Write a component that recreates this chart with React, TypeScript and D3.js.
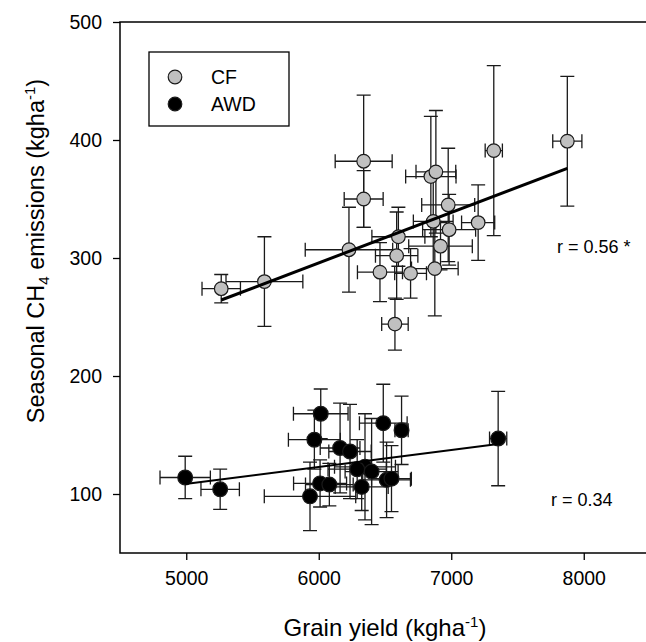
import React, { useEffect, useRef } from 'react';
import * as d3 from 'd3';

// [grain yield, yield SE, CH4, CH4 SE]
const cfPoints: [number, number, number, number][] = [
  [5264, 145, 274, 12],
  [5590, 290, 280, 38],
  [6228, 330, 307, 36],
  [6339, 215, 382, 56],
  [6339, 147, 350, 24],
  [6846, 190, 369, 51],
  [6884, 150, 373, 52],
  [6977, 200, 345, 48],
  [7203, 125, 330, 32],
  [6864, 150, 331, 40],
  [6601, 200, 318, 25],
  [6588, 160, 302, 37],
  [6462, 170, 288, 25],
  [6693, 120, 287, 21],
  [6876, 176, 291, 40],
  [6919, 240, 310, 20],
  [6575, 100, 244, 22],
  [6984, 200, 324, 30],
  [7321, 65, 391, 72],
  [7876, 110, 399, 55],
];

const awdPoints: [number, number, number, number][] = [
  [4992, 190, 114, 18],
  [5256, 145, 104, 17],
  [5934, 345, 98, 29],
  [6015, 206, 168, 21],
  [5967, 196, 146, 25],
  [6161, 150, 139, 38],
  [6236, 160, 136, 40],
  [6010, 200, 109, 20],
  [6080, 180, 108, 18],
  [6487, 180, 160, 33],
  [6625, 50, 154, 29],
  [7354, 65, 147, 40],
  [6349, 230, 123, 45],
  [6399, 200, 119, 45],
  [6512, 180, 112, 32],
  [6549, 150, 113, 28],
  [6324, 200, 106, 20],
  [6290, 220, 121, 25],
];

// regression line end points
const cfFit: [number, number][] = [[5264, 264.4], [7876, 376]];
const awdFit: [number, number][] = [[4992, 108.5], [7354, 142.4]];

const xTicks = [5000, 6000, 7000, 8000];
const yTicks = [100, 200, 300, 400, 500];

const WIDTH = 646;
const HEIGHT = 642;
const MARGIN = { top: 22, left: 120, bottom: 89 };
const FONT = '"Liberation Sans", Arial, sans-serif';

const App: React.FC = () => {
  const svgRef = useRef<SVGSVGElement>(null);

  useEffect(() => {
    const svg = d3.select(svgRef.current);
    svg.selectAll('*').remove();

    const x = d3.scaleLinear().domain([4500, 8500]).range([MARGIN.left, MARGIN.left + 530]);
    const y = d3.scaleLinear().domain([50, 500]).range([HEIGHT - MARGIN.bottom, MARGIN.top]);

    const g = svg.append('g');

    // frame
    g.append('rect')
      .attr('x', x(4500))
      .attr('y', y(500))
      .attr('width', x(8500) - x(4500))
      .attr('height', y(50) - y(500))
      .attr('fill', 'none')
      .attr('stroke', '#000')
      .attr('stroke-width', 1.5);

    // axes
    const xAxis = d3.axisBottom(x).tickValues(xTicks).tickFormat(d3.format('d')).tickSize(7).tickSizeOuter(0).tickPadding(11);
    const xg = g.append('g').attr('transform', `translate(0,${y(50)})`).call(xAxis);
    xg.select('.domain').remove();
    xg.selectAll('line').attr('stroke-width', 1.3);
    xg.selectAll('text').style('font-family', FONT).style('font-size', '19.5px').attr('fill', '#000');

    const yAxis = d3.axisLeft(y).tickValues(yTicks).tickSize(7).tickSizeOuter(0).tickPadding(11);
    const yg = g.append('g').attr('transform', `translate(${x(4500)},0)`).call(yAxis);
    yg.select('.domain').remove();
    yg.selectAll('line').attr('stroke-width', 1.3);
    yg.selectAll('text').style('font-family', FONT).style('font-size', '19.5px').attr('fill', '#000');

    const cap = 7;
    const drawSeries = (pts: [number, number, number, number][], fill: string, r: number) => {
      const eb = g.append('g').attr('stroke', '#1a1a1a').attr('stroke-width', 1.3).attr('fill', 'none');
      pts.forEach(([px, pxe, py, pye]) => {
        const cx = x(px), cy = y(py);
        const x0 = x(px - pxe), x1 = x(px + pxe);
        const y0 = y(py - pye), y1 = y(py + pye);
        eb.append('path').attr('d',
          `M${x0},${cy}H${x1}M${x0},${cy - cap}V${cy + cap}M${x1},${cy - cap}V${cy + cap}` +
          `M${cx},${y0}V${y1}M${cx - cap},${y0}H${cx + cap}M${cx - cap},${y1}H${cx + cap}`);
      });
      g.append('g')
        .selectAll('circle')
        .data(pts)
        .enter().append('circle')
        .attr('cx', d => x(d[0]))
        .attr('cy', d => y(d[2]))
        .attr('r', r)
        .attr('fill', fill)
        .attr('stroke', '#1a1a1a')
        .attr('stroke-width', 1.2);
    };

    drawSeries(cfPoints, '#c0c0c0', 6.8);
    drawSeries(awdPoints, '#000', 7.4);

    const line = d3.line<[number, number]>().x(d => x(d[0])).y(d => y(d[1]));
    g.append('path').datum(cfFit).attr('d', line).attr('stroke', '#000').attr('stroke-width', 3).attr('fill', 'none');
    g.append('path').datum(awdFit).attr('d', line).attr('stroke', '#000').attr('stroke-width', 2).attr('fill', 'none');

    // r labels
    g.append('text').attr('x', 557).attr('y', 253)
      .style('font-family', FONT).style('font-size', '18px').text('r = 0.56 *');
    g.append('text').attr('x', 551).attr('y', 506)
      .style('font-family', FONT).style('font-size', '18px').text('r = 0.34');

    // legend
    const legend = g.append('g');
    legend.append('rect')
      .attr('x', 149).attr('y', 52).attr('width', 140).attr('height', 74)
      .attr('fill', '#fff').attr('stroke', '#000').attr('stroke-width', 1.3);
    [
      { label: 'CF', fill: '#c0c0c0', cy: 77 },
      { label: 'AWD', fill: '#000', cy: 104 },
    ].forEach(item => {
      legend.append('circle').attr('cx', 175).attr('cy', item.cy).attr('r', 6.8)
        .attr('fill', item.fill).attr('stroke', '#1a1a1a').attr('stroke-width', 1.2);
      legend.append('text').attr('x', 211).attr('y', item.cy + 7)
        .style('font-family', FONT).style('font-size', '19.5px').text(item.label);
    });

    // axis titles
    const xt = svg.append('text')
      .attr('x', 385)
      .attr('y', 636)
      .attr('text-anchor', 'middle')
      .style('font-family', FONT)
      .style('font-size', '24px');
    xt.append('tspan').text('Grain yield (kgha');
    xt.append('tspan').attr('dy', -9).style('font-size', '15px').text('-1');
    xt.append('tspan').attr('dy', 9).text(')');

    const yt = svg.append('text')
      .attr('transform', 'translate(44,251) rotate(-90)')
      .attr('text-anchor', 'middle')
      .style('font-family', FONT)
      .style('font-size', '23.5px');
    yt.append('tspan').text('Seasonal CH');
    yt.append('tspan').attr('dy', 5).style('font-size', '15px').text('4');
    yt.append('tspan').attr('dy', -5).text(' emissions (kgha');
    yt.append('tspan').attr('dy', -9).style('font-size', '15px').text('-1');
    yt.append('tspan').attr('dy', 9).text(')');
  }, []);

  return (
    <svg
      ref={svgRef}
      width={WIDTH}
      height={HEIGHT}
      style={{ position: 'absolute', left: 0, top: 0, background: '#fff' }}
    />
  );
};

export default App;
